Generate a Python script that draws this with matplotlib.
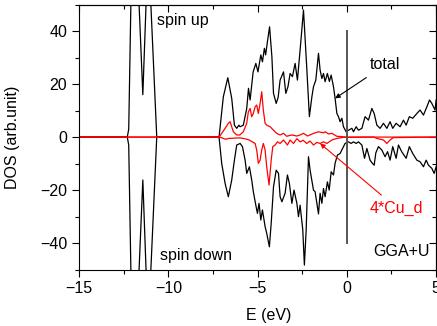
import numpy as np
import matplotlib
matplotlib.use('Agg')
import matplotlib.pyplot as plt

plt.rcParams['font.family'] = ['Liberation Sans', 'DejaVu Sans']

# total DOS, spin up
e_up = [-15, -12.3, -12.22, -12.1, -11.9, -11.64, -11.43, -11.25, -11.1, -10.98, -10.65,
        -7.16, -6.92, -6.67, -6.45, -6.30, -6.17, -6.05, -5.98, -5.80, -5.61, -5.51, -5.42,
        -5.25, -5.10, -4.98, -4.82, -4.73, -4.62, -4.55, -4.45, -4.33, -4.20, -4.11, -3.96,
        -3.85, -3.74, -3.55, -3.42, -3.30, -3.18, -3.05, -2.90, -2.77, -2.62, -2.43, -2.25,
        -2.10, -1.96, -1.87, -1.74, -1.59, -1.50, -1.40, -1.31, -1.22, -1.09, -0.98, -0.88,
        -0.75, -0.66, -0.56, -0.47, -0.38, -0.28, -0.19, -0.04, 0.09, 0.28, 0.37, 0.52, 0.65,
        0.84, 1.02, 1.21, 1.40, 1.53, 1.68, 1.86, 2.05, 2.24, 2.42, 2.57, 2.76, 2.98, 3.17,
        3.32, 3.50, 3.69, 3.92, 4.10, 4.29, 4.48, 4.63, 4.76, 4.94, 5.0]
dos_up = [0, 0, 3, 50, 110, 50, 16, 50, 110, 50, 0,
          0, 15.2, 22.4, 14.6, 4.5, 3.3, 4.5, 3.9, 4.5, 10.8, 18.4, 14,
          24.6, 27.8, 24.6, 31, 28.4, 33.5, 31, 36, 41.6, 30.3, 16.5, 12.7,
          15, 21.5, 24.6, 16.5, 19, 24, 22.8, 27.8, 21.5, 32.8, 47.9, 26.5,
          7.7, 15.2, 19, 21.5, 31.6, 25.3, 22.1, 24, 20.9, 24, 21, 23.4,
          19, 14.6, 8.9, 7.7, 5.8, 7.1, 3.9, 2.0, 2.6, 3.3, 2.0, 3.9, 2.6,
          3.3, 7.7, 6.4, 10.8, 8.9, 4.5, 3.3, 5.2, 3.3, 5.8, 3.3, 5.2, 3.9, 6.4,
          4.5, 7.7, 7.1, 8.9, 10.2, 8.3, 11.4, 14, 12.7, 10.2, 14]

# total DOS, spin down
e_dn = [-15, -12.3, -12.22, -12.1, -11.9, -11.64, -11.43, -11.25, -11.1, -10.98, -10.65,
        -7.16, -7.01, -6.82, -6.64, -6.45, -6.30, -6.17, -5.98, -5.85, -5.70, -5.61, -5.46,
        -5.33, -5.24, -5.10, -5.01, -4.92, -4.82, -4.73, -4.58, -4.49, -4.34, -4.24, -4.11,
        -3.96, -3.83, -3.74, -3.64, -3.46, -3.33, -3.22, -3.08, -2.96, -2.80, -2.71, -2.62,
        -2.47, -2.38, -2.28, -2.15, -2.06, -1.87, -1.78, -1.68, -1.59, -1.50, -1.40, -1.31,
        -1.22, -1.09, -0.99, -0.88, -0.75, -0.66, -0.53, -0.38, -0.19, -0.10, 0.09, 0.24,
        0.37, 0.52, 0.65, 0.84, 0.99, 1.12, 1.30, 1.43, 1.53, 1.62, 1.77, 1.96, 2.14, 2.28,
        2.42, 2.57, 2.76, 2.89, 3.07, 3.32, 3.50, 3.69, 3.92, 4.10, 4.29, 4.44, 4.57, 4.76,
        4.89, 5.0]
dos_dn = [0, 0, -3, -50, -110, -50, -16.2, -50, -110, -50, 0,
          0, -10, -17.5, -22.5, -16.2, -8.7, -3, -2.4, -3.6, -8.7, -13.7, -11.2,
          -16.2, -20.6, -25.7, -28.8, -25, -31.3, -27.5, -33.8, -36.3, -41.4, -32.6, -18.8,
          -12.5, -13.7, -22.5, -24.4, -21.2, -14.3, -17.5, -25, -20, -25, -30, -25.7,
          -35, -48.3, -35, -7.4, -12.5, -20, -20.6, -25, -29, -21.2, -25, -19.4,
          -22.5, -16.9, -20, -13.1, -14.3, -9.9, -6.8, -6.2, -3.6, -2.4, -1.8, -2.4,
          -1.8, -2.4, -1.8, -3, -8, -4.3, -8.7, -9.9, -10.6, -6, -3.6, -4.9, -7.4, -5.5,
          -8.7, -3.6, -8, -3, -5.5, -8, -3.6, -6.2, -8.7, -9.3, -11.2, -8.7, -10.6, -11.8,
          -13.7, -11.2]

# 4*Cu_d, spin up
e_cu_up = [-15, -7.16, -7.01, -6.82, -6.64, -6.54, -6.45, -6.36, -6.17, -6.0, -5.8, -5.61,
           -5.52, -5.42, -5.33, -5.24, -5.14, -5.05, -4.96, -4.86, -4.77, -4.68, -4.58,
           -4.49, -4.30, -4.11, -3.93, -3.74, -3.55, -3.37, -3.10, -2.80, -2.62, -2.43,
           -2.20, -1.87, -1.59, -1.30, -1.22, -1.03, -0.84, -0.56, 0.0, 5.0]
cu_up = [0, 0, 1.4, 3.3, 5.2, 5.8, 3.9, 2.0, 0.8, 0.8, 2.0, 5.2,
         9.5, 10.8, 7.7, 8.9, 11.4, 12.1, 8.9, 12.7, 17.1, 10.2, 5.2,
         4.5, 3.9, 2.6, 1.4, 0.8, 1.4, 0.3, 0.8, 0.4, 0.8, 1.4,
         0.4, 1.4, 2.0, 1.6, 2.0, 1.2, 1.4, 0.3, 0.0, 0.0]

# 4*Cu_d, spin down
e_cu_dn = [-15, -7.16, -7.0, -6.8, -6.6, -6.0, -5.8, -5.5, -5.14, -5.05, -4.96, -4.86,
           -4.77, -4.68, -4.58, -4.49, -4.36, -4.24, -4.15, -4.02, -3.89, -3.74, -3.55,
           -3.33, -3.18, -2.99, -2.80, -2.62, -2.45, -2.25, -2.06, -1.87, -1.68, -1.50,
           -1.30, -1.12, -0.84, -0.56, -0.19, 1.50, 1.68, 2.05, 2.24, 2.42, 2.60, 5.0]
cu_dn = [0, 0, -0.3, -0.8, -0.5, -0.3, -0.5, -1.0, -2.4, -4.9, -9.9, -8.7,
         -4.9, -2.4, -4.9, -11.2, -18.1, -8.7, -3.6, -3.0, -1.8, -2.4, -1.1,
         -3.0, -1.1, -2.4, -0.6, -1.8, -1.2, -2.4, -1.5, -3.0, -2.0, -2.4,
         -1.8, -2.4, -1.1, -0.5, -0.1, 0.0, -0.5, -1.1, -2.4, -1.1, -0.2, 0.0]

fig = plt.figure(figsize=(4.37, 3.26), dpi=100)
ax = fig.add_axes([0.181, 0.173, 0.817, 0.813])

ax.plot(e_up, dos_up, color='black', lw=0.9)
ax.plot(e_dn, dos_dn, color='black', lw=0.9)
ax.plot(e_cu_up, cu_up, color='red', lw=0.9)
ax.plot(e_cu_dn, cu_dn, color='red', lw=0.9)

# Fermi level
ax.plot([0, 0], [-40, 40], color='#555555', lw=1.4)

ax.set_xlim(-15, 5)
ax.set_ylim(-50, 50)
ax.set_xticks([-15, -10, -5, 0, 5])
ax.set_yticks([-40, -20, 0, 20, 40])
ax.set_xticks(np.arange(-15, 5.1, 2.5), minor=True)
ax.set_yticks(np.arange(-50, 50.1, 10), minor=True)
ax.tick_params(which='both', direction='out', labelsize=11.5, width=0.8)
ax.tick_params(which='major', length=5)
ax.tick_params(which='minor', length=3)
for s in ax.spines.values():
    s.set_linewidth(0.8)

# mirrored ticks on top/right pointing inward
sx = ax.secondary_xaxis('top')
sx.set_xticks([-15, -10, -5, 0, 5], labels=[])
sx.set_xticks(np.arange(-15, 5.1, 2.5), minor=True)
sx.tick_params(which='both', direction='in', width=0.8)
sx.tick_params(which='major', length=5)
sx.tick_params(which='minor', length=3)
sy = ax.secondary_yaxis('right')
sy.set_yticks([-40, -20, 0, 20, 40], labels=[])
sy.set_yticks(np.arange(-50, 50.1, 10), minor=True)
sy.tick_params(which='both', direction='in', width=0.8)
sy.tick_params(which='major', length=5)
sy.tick_params(which='minor', length=3)

ax.set_xlabel('E (eV)', fontsize=11.5)
ax.xaxis.set_label_coords(0.53, -0.145)
ax.set_ylabel('DOS (arb.unit)', fontsize=11.5)
ax.yaxis.set_label_coords(-0.165, 0.5)

ax.text(-10.62, 44, 'spin up', fontsize=11.5, va='center', ha='left')
ax.text(-10.46, -44.5, 'spin down', fontsize=11.5, va='center', ha='left')
ax.text(4.67, -43.2, 'GGA+U', fontsize=11.5, va='center', ha='right')

ax.annotate('total', xy=(-0.66, 14.6), xytext=(1.3, 27.2), fontsize=11.5,
            va='center', ha='left',
            arrowprops=dict(arrowstyle='-|>', color='black', lw=0.8,
                            mutation_scale=7, shrinkA=3, shrinkB=0))
ax.annotate('4*Cu_d', xy=(-1.5, -2.4), xytext=(1.3, -26.8), fontsize=11.5,
            color='red', va='center', ha='left',
            arrowprops=dict(arrowstyle='-|>', color='red', lw=0.8,
                            mutation_scale=7, shrinkA=3, shrinkB=0))

fig.savefig('out.png', dpi=100)
